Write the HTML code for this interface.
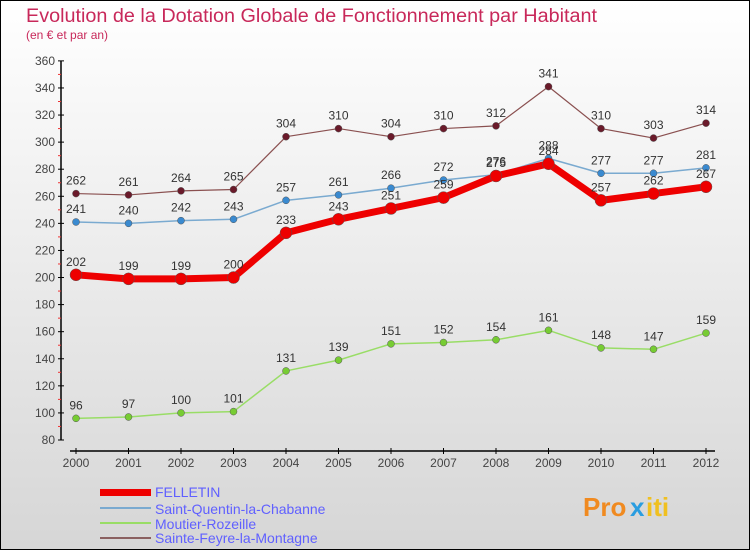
<!DOCTYPE html>
<html><head><meta charset="utf-8"><style>
body{margin:0}
#c{width:750px;height:550px;position:relative;overflow:hidden}
svg text{font-family:"Liberation Sans",sans-serif}
</style></head><body>
<div id="c">
<svg id="s" width="750" height="550" xmlns="http://www.w3.org/2000/svg">
<defs><linearGradient id="bg" x1="0" y1="0" x2="0" y2="1"><stop offset="0" stop-color="#ffffff"/><stop offset="1" stop-color="#d6d6d6"/></linearGradient></defs>
<rect x="0.5" y="0.5" width="749" height="549" fill="url(#bg)" stroke="#000"/>
<text x="26" y="22" font-size="19" fill="#c8285a" textLength="571" lengthAdjust="spacingAndGlyphs">Evolution de la Dotation Globale de Fonctionnement par Habitant</text>
<text x="26" y="39" font-size="12" fill="#c8285a">(en € et par an)</text>
<g id="axes"></g><g id="series"></g>
<g>
<rect x="100" y="489" width="51" height="7" fill="#e00"/>
<text x="155" y="497" font-size="14" fill="#6060ff">FELLETIN</text>
<rect x="100" y="507" width="51" height="2" fill="#7aaad0"/>
<text x="155" y="514" font-size="14" fill="#6060ff">Saint-Quentin-la-Chabanne</text>
<rect x="100" y="522" width="51" height="2" fill="#99dd66"/>
<text x="155" y="529" font-size="14" fill="#6060ff">Moutier-Rozeille</text>
<rect x="100" y="537" width="51" height="2" fill="#8a6060"/>
<text x="155" y="543" font-size="14" fill="#6060ff">Sainte-Feyre-la-Montagne</text>
</g>
<g font-size="26" font-weight="bold">
<text x="583" y="516" fill="#f08a20">Pro</text><text x="630" y="516" fill="#2a9de0">x</text><text x="646" y="516" fill="#f0c020">iti</text>
</g>
</svg></div>
<script>
const years=[2000,2001,2002,2003,2004,2005,2006,2007,2008,2009,2010,2011,2012];
const yTicks=[80,100,120,140,160,180,200,220,240,260,280,300,320,340,360];
const felletin=[202,199,199,200,233,243,251,259,275,284,257,262,267];
const saintQuentin=[241,240,242,243,257,261,266,272,276,288,277,277,281];
const moutier=[96,97,100,101,131,139,151,152,154,161,148,147,159];
const sainteFeyre=[262,261,264,265,304,310,304,310,312,341,310,303,314];
const NS="http://www.w3.org/2000/svg";
const xS=i=>76+i*52.5;
const yS=v=>440-(v-80)*1.354;
function mk(t,a,p){const e=document.createElementNS(NS,t);for(const k in a)e.setAttribute(k,a[k]);p.appendChild(e);return e;}
const ax=document.getElementById('axes');
let e=mk('line',{x1:61,y1:yS(360),x2:61,y2:yS(80),stroke:'#000','stroke-width':1.5},ax);


e=mk('line',{x1:70,y1:451,x2:715,y2:451,stroke:'#000','stroke-width':1.5},ax);


yTicks.forEach(v=>{
 mk('line',{x1:58,x2:64,y1:yS(v),y2:yS(v),stroke:'#000'},ax);
 if(v<360)mk('line',{x1:58,x2:61,y1:yS(v+10),y2:yS(v+10),stroke:'#e33'},ax);
 const t=mk('text',{x:55,y:yS(v)+4,'font-size':12,'text-anchor':'end',fill:'#444'},ax);
 t.textContent=v;
 
 
});
years.forEach((y,i)=>{
 mk('line',{x1:xS(i),x2:xS(i),y1:448,y2:454,stroke:'#000'},ax);
 const t=mk('text',{x:xS(i),y:467,'font-size':12,'text-anchor':'middle',fill:'#444'},ax);
 t.textContent=y;
 
 
});
const sg=document.getElementById('series');
function draw(vals,col,dot,w,r,name){
 const g=mk('g',{},sg);
 
 
 mk('polyline',{points:vals.map((v,i)=>xS(i)+','+yS(v)).join(' '),fill:'none',stroke:col,'stroke-width':w,'stroke-linejoin':'round'},g);
 vals.forEach((v,i)=>{
  const c=mk('circle',{cx:xS(i),cy:yS(v),r:r,fill:dot,stroke:'#555','stroke-width':0.5},g);
  
  
  const t=mk('text',{x:xS(i),y:yS(v)-9,'font-size':12,'text-anchor':'middle',fill:'#333'},g);
  t.textContent=v;
  
  
 });
}
draw(moutier,'#99dd66','#77cc33',1.5,3.5,'moutier');
draw(saintQuentin,'#7aaad0','#3a8ad0',1.5,3.5,'saint-quentin');
draw(sainteFeyre,'#8a5050','#6a1a2a',1.2,3.5,'sainte-feyre');
draw(felletin,'#ee0000','#ee0000',7,6,'felletin');
</script>
</body></html>
